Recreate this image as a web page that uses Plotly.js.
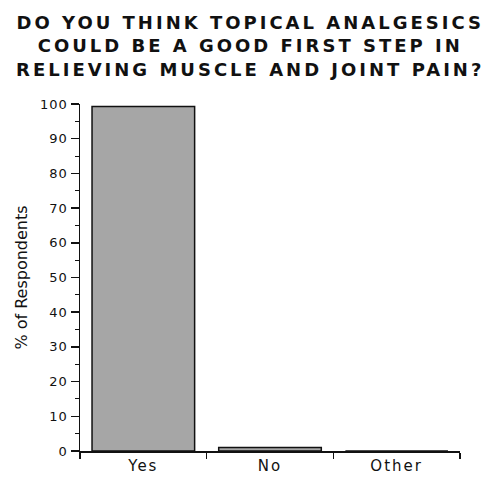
<!DOCTYPE html>
<html><head><meta charset="utf-8">
<script src="https://cdn.plot.ly/plotly-3.0.1.min.js"></script>
<style>
html,body{margin:0;padding:0;background:#fff;}
#chart{width:491px;height:477px;}
#chart .annotation-text{letter-spacing:3px;}
#chart .xtick text{letter-spacing:2px;}
#chart .ytick text{letter-spacing:1px;}
</style>
</head><body><div id="chart"></div>
<script>
const categories = ["Yes", "No", "Other"];
const percentValues = [99.3, 1.0, 0];
const yTickValues = [0, 10, 20, 30, 40, 50, 60, 70, 80, 90, 100];
const titleText = "DO YOU THINK TOPICAL ANALGESICS<br>COULD BE A GOOD FIRST STEP IN<br>RELIEVING MUSCLE AND JOINT PAIN?";

const trace = {
  type: "bar",
  x: categories,
  y: percentValues,
  width: 0.81,
  marker: {color: "#a6a6a6", line: {color: "#111", width: 1.5}},
  hoverinfo: "x+y"
};

const layout = {
  width: 491, height: 477,
  margin: {l: 80, r: 31, t: 104, b: 26},
  paper_bgcolor: "#fff", plot_bgcolor: "#fff",
  showlegend: false,
  annotations: [{
    text: titleText,
    xref: "paper", yref: "paper",
    x: 0.447, y: 1.272, xanchor: "center", yanchor: "top",
    showarrow: false, align: "center",
    font: {family: "DejaVu Sans, sans-serif", size: 18, color: "#111", weight: "bold"}
  }],
  xaxis: {
    type: "category",
    range: [-0.5, 2.5],
    tickson: "boundaries",
    ticks: "outside", ticklen: 6, tickcolor: "#111", tickwidth: 1.5,
    showline: true, linecolor: "#111", linewidth: 1.5,
    showgrid: false, zeroline: false,
    tickfont: {family: "DejaVu Sans, sans-serif", size: 15, color: "#111"}
  },
  yaxis: {
    range: [0, 100],
    tickvals: yTickValues,
    ticks: "outside", ticklen: 8, tickcolor: "#111", tickwidth: 1.5,
    minor: {dtick: 5, ticks: "outside", ticklen: 4, tickcolor: "#111", tickwidth: 1},
    showline: true, linecolor: "#111", linewidth: 1.5,
    showgrid: false, zeroline: false,
    tickfont: {family: "DejaVu Sans, sans-serif", size: 13, color: "#111"},
    title: {text: "% of Respondents", font: {family: "DejaVu Sans, sans-serif", size: 16, color: "#111"}, standoff: 11}
  }
};

Plotly.newPlot("chart", [trace], layout, {displayModeBar: false, staticPlot: true});
</script>
</body></html>
